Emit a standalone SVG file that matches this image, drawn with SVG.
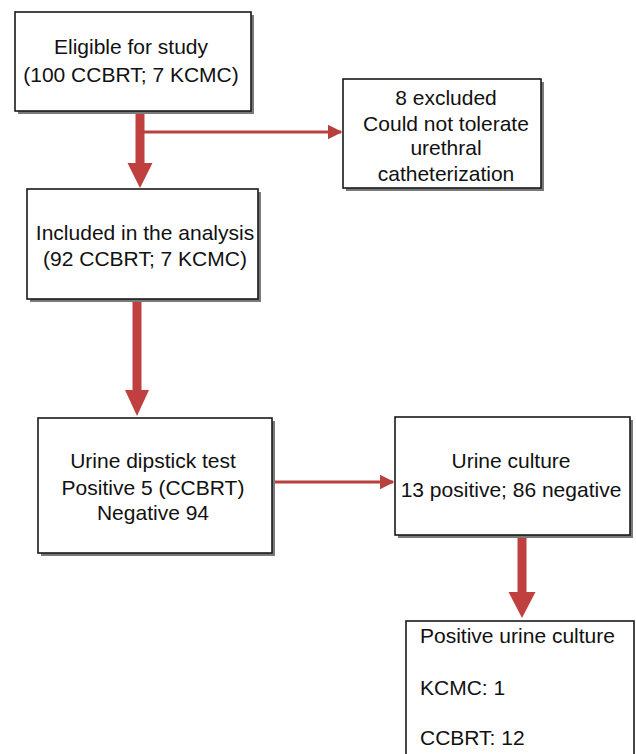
<svg xmlns="http://www.w3.org/2000/svg" width="636" height="754" viewBox="0 0 636 754">
<style>
.box{fill:#fff;stroke:#1a1a1a;stroke-width:1.6}
.sh{fill:#7a7a7a}
text{font-family:"Liberation Sans",Arial,sans-serif;font-size:21px;fill:#111}
.c{text-anchor:middle}
.thick{stroke:#c0403f;stroke-width:9;fill:none}
.thin{stroke:#b8403f;stroke-width:3;fill:none}
.head{fill:#c0403f}
</style>
<defs>
<marker id="ah" markerWidth="5" markerHeight="5" refX="4.5" refY="2.5" orient="auto" markerUnits="strokeWidth">
<path d="M0,0 L5,2.5 L0,5 Z" fill="#b8403f"/>
</marker>
</defs>
<rect width="636" height="754" fill="#fff"/>
<g id="connectors">
<line class="thick" x1="140" y1="111" x2="140" y2="165"/>
<polygon class="head" points="127.5,163 152.5,163 140,188"/>
<line class="thin" x1="140" y1="132" x2="341" y2="132" marker-end="url(#ah)"/>
<line class="thick" x1="137" y1="299" x2="137" y2="392"/>
<polygon class="head" points="125,390 149,390 137,416"/>
<line class="thin" x1="272" y1="482" x2="393" y2="482" marker-end="url(#ah)"/>
<line class="thick" x1="522" y1="535" x2="522" y2="594"/>
<polygon class="head" points="508.5,592 535.5,592 522,618"/>
</g>
<g id="eligible">
<rect class="sh" x="18" y="15" width="236" height="99"/>
<rect class="box" x="15" y="12" width="236" height="99"/>
<text class="c" x="131" y="54">Eligible for study</text>
<text class="c" x="131" y="82">(100 CCBRT; 7 KCMC)</text>
</g>
<g id="excluded">
<rect class="sh" x="346" y="82" width="198" height="109"/>
<rect class="box" x="343" y="79" width="198" height="109"/>
<text class="c" x="446" y="105">8 excluded</text>
<text class="c" x="446" y="131">Could not tolerate</text>
<text class="c" x="446" y="155">urethral</text>
<text class="c" x="446" y="181">catheterization</text>
</g>
<g id="included">
<rect class="sh" x="30" y="192" width="231" height="110"/>
<rect class="box" x="27" y="189" width="231" height="110"/>
<text class="c" x="145" y="240">Included in the analysis</text>
<text class="c" x="145" y="266">(92 CCBRT; 7 KCMC)</text>
</g>
<g id="dipstick">
<rect class="sh" x="41" y="421" width="234" height="135"/>
<rect class="box" x="38" y="418" width="234" height="135"/>
<text class="c" x="153" y="468">Urine dipstick test</text>
<text class="c" x="153" y="495">Positive 5 (CCBRT)</text>
<text class="c" x="153" y="520">Negative 94</text>
</g>
<g id="culture">
<rect class="sh" x="398" y="420" width="235" height="118"/>
<rect class="box" x="395" y="417" width="235" height="118"/>
<text class="c" x="511" y="468">Urine culture</text>
<text class="c" x="511" y="497">13 positive; 86 negative</text>
</g>
<g id="positive">
<rect class="box" x="406" y="621" width="228" height="140"/>
<text x="420" y="643">Positive urine culture</text>
<text x="420" y="695">KCMC: 1</text>
<text x="420" y="745">CCBRT: 12</text>
</g>
</svg>
